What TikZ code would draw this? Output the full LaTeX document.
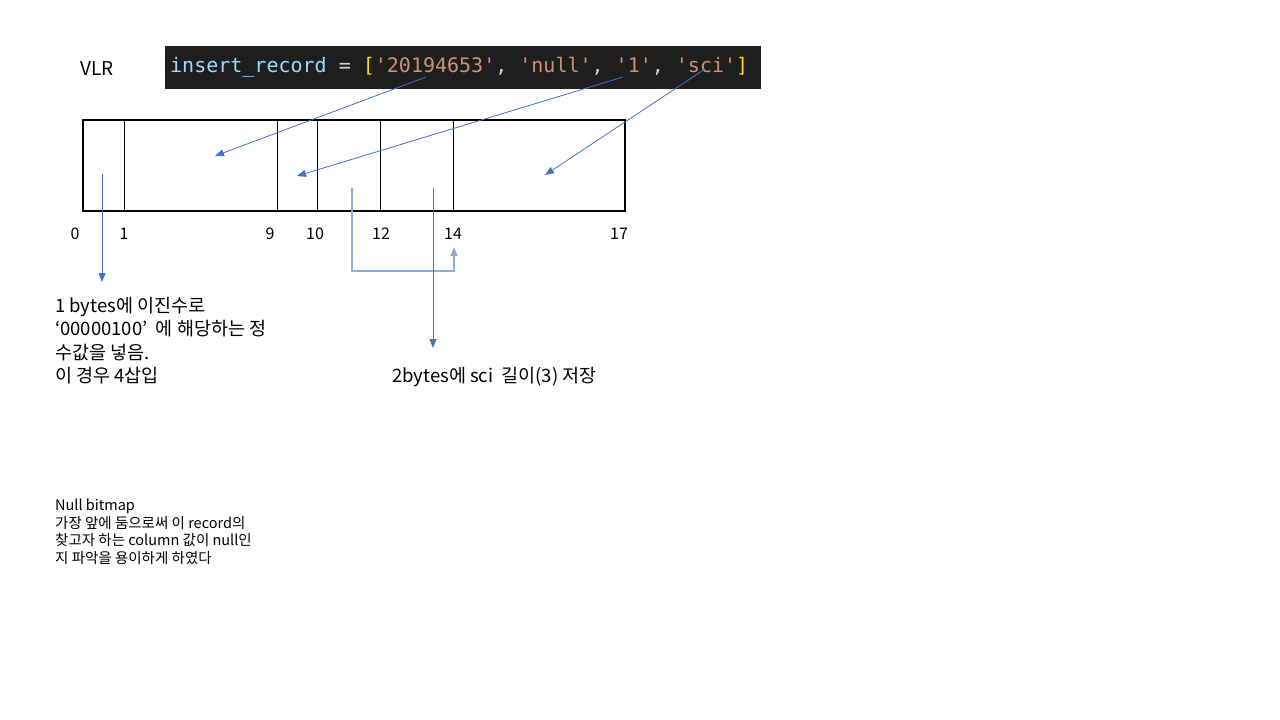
\documentclass[tikz,border=0pt]{standalone}
\usepackage{fontspec}
\setmainfont{Noto Sans CJK KR}
\newfontfamily\codefont{DejaVu Sans Mono}
\usetikzlibrary{arrows.meta}
\definecolor{arrowblue}{HTML}{4472C4}
\definecolor{paleblue}{HTML}{8FAADC}
\definecolor{codebg}{HTML}{1E1E1E}
\definecolor{codevar}{HTML}{9CDCFE}
\definecolor{codeop}{HTML}{D4D4D4}
\definecolor{codebrk}{HTML}{FFD700}
\definecolor{codestr}{HTML}{CE9178}
\tikzset{
  record/.style ={draw=black, line width=2pt, minimum width=542pt, minimum height=91pt,
                  anchor=north west, inner sep=0pt},
  divider/.style={draw=black, line width=1pt},
  codebox/.style={fill=codebg, draw=none, minimum width=596pt, minimum height=43pt,
                  anchor=north west, inner sep=0pt},
  codeline/.style={font=\codefont\fontsize{20}{20}\selectfont, anchor=base west, inner sep=0pt},
  title/.style  ={font=\fontsize{19}{19}\selectfont, anchor=base west, inner sep=0pt},
  offset/.style ={font=\fontsize{16}{16}\selectfont, anchor=base, inner sep=0pt},
  note/.style   ={font=\fontsize{18.5}{23.3}\selectfont, align=left, anchor=north west, inner sep=0pt},
  smallnote/.style={font=\fontsize{14.5}{17.5}\selectfont, align=left, anchor=north west, inner sep=0pt},
  pointer/.style={draw=arrowblue, line width=0.8pt, -{Triangle[length=9pt,width=7pt]}},
  elbow/.style  ={draw=paleblue, line width=1.2pt, -{Triangle[length=9pt,width=7pt]}},
}

\begin{document}
\begin{tikzpicture}[x=1pt,y=-1pt]
  \useasboundingbox[fill=white] (0,0) rectangle (1280,720);

  % ---------------------------------------------------------------- header
  \node[title] (vlr) at (80,75) {VLR};
  \node[codebox] (codebox) at (165,46) {};
  \node[codeline] (code) at (170,72)
    {\color{codevar}insert\_record \color{codeop}= \color{codebrk}[\color{codestr}'20194653'\color{codeop}, \color{codestr}'null'\color{codeop}, \color{codestr}'1'\color{codeop}, \color{codestr}'sci'\color{codebrk}]};

  % ---------------------------------------------------------------- record
  \node[record] (rec) at (82,119) {};
  \foreach \x in {124,277,317,380,453}
    \draw[divider] (\x,0 |- rec.north) -- (\x,0 |- rec.south);

  % byte offsets
  \foreach \x/\n in {75/0, 124/1, 270/9, 315/10, 381/12, 453/14, 619/17}
    \node[offset] (off\n) at (\x,239) {\n};

  % ---------------------------------------------------------------- notes
  \node[note] (bitmapnote) at (55,297)
    {1 bytes에 이진수로\\‘00000100’\ \ 에 해당하는 정\\수값을 넣음.\\이 경우 4삽입};
  \node[note] (lennote) at (392,367) {2bytes에 sci\ \ 길이(3) 저장};
  \node[smallnote] (nullnote) at (55,499)
    {Null bitmap\\가장 앞에 둠으로써 이 record의\\찾고자 하는 column 값이 null인\\지 파악을 용이하게 하였다};

  % ---------------------------------------------------------------- pointers
  \coordinate (idsrc)    at (426,77);
  \coordinate (idcell)   at (215,156);
  \coordinate (deptsrc)  at (623,77);
  \coordinate (deptcell) at (297,176);
  \coordinate (namesrc)  at (705,69);
  \coordinate (namecell) at (545,175);
  \coordinate (bitcell)  at (102,174);
  \coordinate (bitend)   at (102,282);
  \coordinate (lenstart) at (352,188);
  \coordinate (lenend)   at (454,247);
  \coordinate (lentop)   at (433,188);
  \coordinate (lenbot)   at (433,348);

  \draw[pointer] (idsrc) -- (idcell);
  \draw[pointer] (deptsrc) -- (deptcell);
  \draw[pointer] (namesrc) -- (namecell);
  \draw[pointer] (bitcell) -- (bitend);
  \draw[elbow] (lenstart) -- ++(0,83) -| (lenend);
  \draw[pointer] (lentop) -- (lenbot);
\end{tikzpicture}
\end{document}
